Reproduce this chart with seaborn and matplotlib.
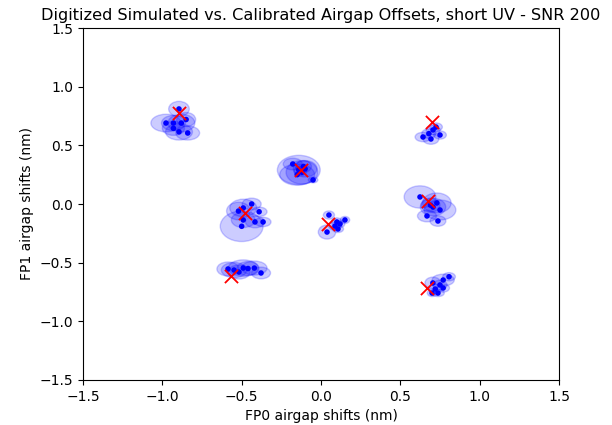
import matplotlib
matplotlib.use("Agg")
import matplotlib.pyplot as plt
from matplotlib.patches import Ellipse
import seaborn as sns
import pandas as pd

# Estimated (calibrated) offsets
est_x = [-0.895, -0.977, -0.93, -0.88, -0.85, -0.84, -0.895, -0.93,
         0.643, 0.693, 0.75, 0.706, 0.725, 0.68,
         -0.178, -0.05, -0.14, -0.12, -0.10, -0.15, -0.11, -0.13,
         -0.437, -0.39, -0.49, -0.49, -0.416, -0.365, -0.5, -0.52,
         0.05, 0.151, 0.10, 0.088, 0.038, 0.107, 0.12,
         0.624, 0.73, 0.706, 0.75, 0.668, 0.737, 0.69,
         -0.586, -0.548, -0.517, -0.49, -0.42, -0.378, -0.46,
         0.807, 0.77, 0.705, 0.75, 0.77, 0.72, 0.737, 0.70]
est_y = [0.81, 0.69, 0.69, 0.69, 0.72, 0.605, 0.615, 0.645,
         0.571, 0.554, 0.588, 0.631, 0.656, 0.60,
         0.341, 0.205, 0.29, 0.27, 0.30, 0.25, 0.32, 0.28,
         0.0, -0.066, -0.034, -0.136, -0.153, -0.153, -0.19, -0.06,
         -0.094, -0.136, -0.153, -0.188, -0.239, -0.213, -0.17,
         0.06, 0.009, -0.026, -0.051, -0.102, -0.145, -0.01,
         -0.554, -0.563, -0.58, -0.546, -0.546, -0.588, -0.55,
         -0.62, -0.648, -0.673, -0.69, -0.716, -0.725, -0.759, -0.759]
# Uncertainty ellipse widths / heights
ell_w = [0.13, 0.19, 0.15, 0.17, 0.12, 0.15, 0.17, 0.14,
         0.10, 0.10, 0.08, 0.09, 0.08, 0.09,
         0.12, 0.06, 0.27, 0.20, 0.15, 0.22, 0.10, 0.08,
         0.12, 0.10, 0.17, 0.15, 0.12, 0.10, 0.27, 0.15,
         0.07, 0.06, 0.07, 0.08, 0.11, 0.07, 0.06,
         0.20, 0.18, 0.16, 0.20, 0.12, 0.10, 0.12,
         0.14, 0.16, 0.14, 0.19, 0.16, 0.12, 0.14,
         0.08, 0.14, 0.10, 0.09, 0.08, 0.08, 0.08, 0.06]
ell_h = [0.13, 0.15, 0.13, 0.15, 0.12, 0.12, 0.14, 0.12,
         0.08, 0.09, 0.07, 0.08, 0.07, 0.08,
         0.10, 0.05, 0.25, 0.20, 0.14, 0.18, 0.10, 0.08,
         0.10, 0.08, 0.15, 0.13, 0.10, 0.08, 0.26, 0.15,
         0.07, 0.06, 0.07, 0.07, 0.12, 0.06, 0.06,
         0.19, 0.17, 0.15, 0.17, 0.10, 0.09, 0.12,
         0.12, 0.13, 0.12, 0.14, 0.12, 0.10, 0.12,
         0.07, 0.10, 0.10, 0.08, 0.07, 0.08, 0.06, 0.06]
# Simulated (true) offsets
true_x = [-0.895, 0.70, -0.126, -0.479, 0.044, 0.674, -0.567, 0.668]
true_y = [0.776, 0.70, 0.29, -0.077, -0.17, 0.026, -0.614, -0.716]

fig = plt.figure(figsize=(6.12, 4.25), dpi=100)
ax = fig.add_axes([0.1356, 0.1059, 0.7778, 0.8282])

for x, y, w, h in zip(est_x, est_y, ell_w, ell_h):
    ax.add_patch(Ellipse((x, y), w, h, color="blue", alpha=0.2, zorder=1))

est = pd.DataFrame({"x": est_x, "y": est_y})
tru = pd.DataFrame({"x": true_x, "y": true_y})
sns.scatterplot(data=est, x="x", y="y", ax=ax, color="blue", s=16,
                edgecolor="none", zorder=2)
sns.scatterplot(data=tru, x="x", y="y", ax=ax, color="red", marker="x",
                s=90, linewidth=1.3, zorder=3)

ax.set_xlim(-1.5, 1.5)
ax.set_ylim(-1.5, 1.5)
ax.set_xlabel("FP0 airgap shifts (nm)")
ax.set_ylabel("FP1 airgap shifts (nm)")
ax.set_title("Digitized Simulated vs. Calibrated Airgap Offsets, short UV - SNR 200",
             fontsize=11.6)

fig.savefig("out.png", dpi=100)
